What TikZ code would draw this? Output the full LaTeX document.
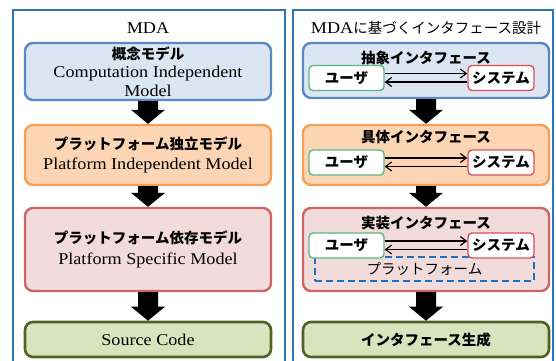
\documentclass[tikz,border=0pt]{standalone}
\usepackage{fontspec}
\setmainfont{Liberation Serif}[FakeStretch=1.1]
\newfontfamily\jp{Noto Sans CJK JP}
\usetikzlibrary{calc,arrows.meta}
\definecolor{cframe}{HTML}{2E75B6}
\definecolor{cbluefill}{HTML}{DCE6F2}
\definecolor{cbluebd}{HTML}{5A87C5}
\definecolor{corfill}{HTML}{FCD5B4}
\definecolor{corbd}{HTML}{F5A05A}
\definecolor{cpinkfill}{HTML}{F2DCDB}
\definecolor{cpinkbd}{HTML}{CC6666}
\definecolor{cgrfill}{HTML}{D7E4BD}
\definecolor{cgrbd}{HTML}{4F6228}
\definecolor{cusr}{HTML}{5CB87A}
\definecolor{csys}{HTML}{D9505A}
\definecolor{cdash}{HTML}{2070C0}
\begin{document}
\begin{tikzpicture}[x=1pt,y=-1pt,
  panel/.style={draw=cframe,line width=1.4pt},
  bigbox/.style={rounded corners=8pt,line width=2.4pt,minimum width=246pt,align=center,inner sep=0pt,font=\fontsize{16.5}{18.5}\selectfont},
  bluebox/.style={bigbox,draw=cbluebd,fill=cbluefill},
  orbox/.style={bigbox,draw=corbd,fill=corfill},
  pinkbox/.style={bigbox,draw=cpinkbd,fill=cpinkfill},
  grbox/.style={bigbox,draw=cgrbd,fill=cgrfill,minimum height=35pt,line width=2.6pt},
  jt/.style={font=\jp\bfseries\fontsize{14.5}{16}\selectfont,inner sep=0pt},
  smallbox/.style={draw,line width=1.4pt,fill=white,rounded corners=4pt,minimum height=25pt,inner sep=0pt,font=\jp\bfseries\fontsize{14.5}{16}\selectfont},
  usrbox/.style={smallbox,draw=cusr,minimum width=75pt},
  sysbox/.style={smallbox,draw=csys,minimum width=66pt},
  flow/.style={line width=1.3pt,-{Straight Barb[length=6pt,width=9pt,line width=1.2pt]}},
  blk/.style={fill=black,draw=none}
]
\useasboundingbox (0,0) rectangle (556,360);
\fill[white] (0,0) rectangle (556,360);
% panels
\draw[panel] (13,365) -- (13,10) -- (285,10) -- (285,365);
\draw[panel] (293,365) -- (293,10) -- (553,10) -- (553,365);
% titles
\node[font=\fontsize{16.5}{18}\selectfont,inner sep=0pt] (tl) at (148,28) {MDA};
\node[font=\fontsize{16.5}{18}\selectfont,inner sep=0pt] (tr) at (426,28) {MDA{\jp\fontsize{14.5}{16}\selectfont に基づくインタフェース設計}};
% left column
\node[bluebox,minimum height=57pt] (L1) at (148,71.5) {{\jp\bfseries\fontsize{14.5}{16}\selectfont 概念モデル}\\Computation Independent\\Model};
\node[orbox,minimum height=60pt] (L2) at (148,155) {{\jp\bfseries\fontsize{14.5}{16}\selectfont プラットフォーム独立モデル}\\[2pt]Platform Independent Model};
\node[pinkbox,minimum height=83pt] (L3) at (148,249.5) {{\jp\bfseries\fontsize{14.5}{16}\selectfont プラットフォーム依存モデル}\\[2pt]Platform Specific Model};
\node[grbox] (L4) at (148,339.5) {Source Code};
% right column
\node[bluebox,minimum height=55pt] (R1) at (426,70.5) {};
\node[orbox,minimum height=60pt] (R2) at (426,155) {};
\node[pinkbox,minimum height=83pt] (R3) at (426,249.5) {};
\node[grbox,font=\jp\bfseries\fontsize{14.5}{16}\selectfont] (R4) at (426,339.5) {インタフェース生成};
\node[jt] (R1t) at (426,58) {抽象インタフェース};
\node[jt] (R2t) at (426,137) {具体インタフェース};
\node[jt] (R3t) at (426,223) {実装インタフェース};
% platform dashed box
\node[draw=cdash,dash pattern=on 7pt off 4pt,line width=2.4pt,minimum width=219pt,minimum height=24pt,inner sep=0pt,font=\jp\fontsize{14.5}{16}\selectfont] (pf) at (424.5,269) {プラットフォーム};
% small boxes
\node[usrbox] (u1) at (346.5,78) {ユーザ};
\node[sysbox] (s1) at (501,78) {システム};
\node[usrbox] (u2) at (346.5,162.5) {ユーザ};
\node[sysbox] (s2) at (501,162.5) {システム};
\node[usrbox] (u3) at (346.5,245.5) {ユーザ};
\node[sysbox] (s3) at (501,245.5) {システム};
\foreach \u/\s in {u1/s1,u2/s2,u3/s3}{
  \draw[flow] ([yshift=4.5pt]\u.east) -- ([yshift=4.5pt]\s.west);
  \draw[flow] ([yshift=-4pt]\s.west) -- ([yshift=-4pt]\u.east);
}
% block arrows
\foreach \a/\b in {L1/L2,L2/L3,L3/L4,R1/R2,R2/R3,R3/R4}{
  \fill[blk] ($(\a.south)+(-10,0)$) -- ($(\a.south)+(10,0)$) -- ($(\b.north)+(10,-14)$) -- ($(\b.north)+(17,-14)$) -- (\b.north) -- ($(\b.north)+(-17,-14)$) -- ($(\b.north)+(-10,-14)$) -- cycle;
}
\end{tikzpicture}
\end{document}
